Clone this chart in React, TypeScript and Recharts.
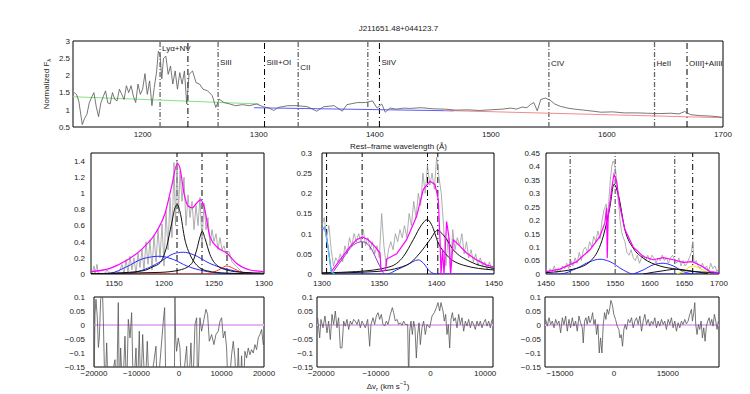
import React from 'react';
import { LineChart, Line, XAxis, YAxis, ReferenceLine, ReferenceArea } from 'recharts';

const FONT = '"Liberation Sans", Arial, sans-serif';

// ---- top overview: [rest wavelength (A), normalized flux] ----
const overviewFlux: number[][] = [
  [1141, 1.5], [1143, 1.45], [1145, 1.25], [1148, 0.57], [1150, 0.75], [1152, 0.87], [1154, 1.2],
  [1156, 1.36], [1158, 1.5], [1160, 1.1], [1162, 0.8], [1164, 1.2], [1166, 1.38], [1168, 1.55],
  [1170, 1.2], [1172, 1.17], [1174, 1.5], [1176, 1.3], [1178, 1.26], [1180, 1.6], [1182, 1.45],
  [1184, 1.3], [1186, 1.7], [1188, 1.5], [1190, 1.7], [1192, 1.4], [1194, 1.21], [1196, 1.75],
  [1198, 1.45], [1200, 1.6], [1202, 2.05], [1204, 1.45], [1206, 1.84], [1208, 1.12], [1210, 1.65],
  [1212, 2.1], [1213.5, 2.7], [1215, 2.6], [1216.5, 1.9], [1218, 2.5], [1220, 2.56], [1222, 2.03],
  [1224, 2.27], [1226, 1.75], [1228, 2.13], [1230, 1.6], [1232, 2.08], [1234, 1.75], [1236, 2.13],
  [1238, 1.17], [1240, 2.03], [1243, 2.13], [1246, 1.79], [1249, 1.75], [1252, 1.6], [1256, 1.55],
  [1260, 1.41], [1263, 1.07], [1266, 1.31], [1270, 1.21], [1275, 1.17], [1280, 1.12], [1286, 1.15],
  [1292, 1.12], [1298, 1.17], [1304, 1.09], [1309, 1.05], [1313, 0.98], [1317, 1.07], [1325, 1.12],
  [1333, 1.12], [1342, 1.09], [1350, 0.96], [1356, 1.09], [1365, 1.12], [1372, 0.96], [1376, 1.15],
  [1385, 1.21], [1392, 1.21], [1398, 1.26], [1402, 1.05], [1406, 1.17], [1409, 0.93], [1413, 1.05],
  [1419, 1.02], [1425, 1.05], [1430, 1.04], [1440, 1.06], [1450, 1.03], [1460, 1.02], [1470, 0.99],
  [1480, 1.0], [1490, 0.98], [1500, 1.0], [1510, 1.02], [1517, 1.05], [1522, 1.02], [1527, 1.08],
  [1531, 1.06], [1534, 1.15], [1537, 1.21], [1540, 0.97], [1543, 1.3], [1547, 1.34], [1551, 1.28],
  [1555, 1.17], [1560, 1.1], [1566, 1.05], [1572, 1.02], [1580, 0.99], [1588, 0.96], [1595, 0.93],
  [1605, 0.94], [1615, 0.91], [1625, 0.91], [1635, 0.9], [1645, 0.89], [1655, 0.9], [1662, 0.88],
  [1667, 0.95], [1672, 0.86], [1680, 0.83], [1688, 0.82], [1695, 0.8], [1700, 0.78],
];
const contLya: number[][] = [[1140, 1.38], [1300, 1.17]];
const contSiIV: number[][] = [[1296, 1.06], [1468, 0.97]];
const contCIV: number[][] = [[1460, 0.98], [1700, 0.77]];

const markerWaves = [1215, 1239, 1265, 1305, 1334, 1394, 1404, 1550, 1641, 1669];
const markerStrong = [false, true, false, true, false, false, true, false, false, true];
const markerNames = ['Lyα+NV', '', 'SiII', 'SiII+OI', 'CII', '', 'SiIV', 'CIV', 'HeII', 'OIII]+AlIII'];

// ---- Lya region ----
const lyaData: number[][] = [
  [1128, 0], [1130, 0.1], [1131, 0], [1133, 0.12], [1134, 0.02], [1137, 0], [1140, 0], [1143, 0.05],
  [1146, 0], [1150, 0.02], [1153, 0], [1156, 0.05], [1158, 0.12], [1160, 0], [1162, 0.18], [1164, 0.02],
  [1166, 0.22], [1168, 0.05], [1170, 0.2], [1172, 0], [1174, 0.26], [1176, 0.08], [1178, 0.3],
  [1180, 0.05], [1182, 0.4], [1184, 0.12], [1186, 0.42], [1188, 0.05], [1190, 0.48], [1192, 0.15],
  [1194, 0.55], [1196, 0.2], [1198, 0.62], [1200, 0.1], [1202, 0.78], [1204, 0.3], [1206, 0.95],
  [1208, 0.45], [1210, 1.38], [1211.5, 0.6], [1213, 1.4], [1214.5, 0.75], [1216, 1.28], [1218, 0.9],
  [1220, 1.2], [1222, 0.6], [1224, 0.98], [1226, 0.7], [1228, 0.9], [1230, 0.55], [1232, 0.85],
  [1234, 0.6], [1236, 0.95], [1238, 0.4], [1240, 0.88], [1242, 0.55], [1244, 0.7], [1246, 0.35],
  [1248, 0.55], [1250, 0.4], [1252, 0.5], [1254, 0.3], [1256, 0.45], [1258, 0.3], [1260, 0.35],
  [1262, 0.25], [1265, 0.28], [1268, 0.15], [1272, 0.1], [1276, 0.05], [1280, 0], [1285, 0.02],
  [1290, 0], [1295, 0.01], [1300, 0],
];
const lyaTotal: number[][] = [
  [1127, 0.03], [1146, 0.07], [1162.7, 0.17], [1179, 0.32], [1192.7, 0.53], [1201, 0.75],
  [1207.7, 1.09], [1213.3, 1.37], [1216, 1.31], [1220, 1.0], [1224.3, 0.84], [1228.3, 0.82],
  [1232.7, 0.88], [1236.7, 0.92], [1240, 0.84], [1246, 0.46], [1254.3, 0.32], [1262.7, 0.26],
  [1272.7, 0.13], [1286, 0.05], [1300, 0.03],
];
const lyaNarrow: number[][] = [
  [1127, 0], [1150, 0.01], [1179, 0.04], [1189, 0.09], [1196, 0.14], [1202.7, 0.34], [1207.7, 0.63],
  [1211, 0.82], [1213.3, 0.86], [1216, 0.77], [1221, 0.42], [1226, 0.24], [1232.7, 0.11],
  [1242.7, 0.04], [1262.7, 0.01], [1300, 0],
];
const nvNarrow: number[][] = [
  [1127, 0.005], [1196, 0.02], [1216, 0.05], [1227.7, 0.13], [1232.7, 0.3], [1236, 0.46],
  [1238.3, 0.53], [1241, 0.44], [1246, 0.24], [1252.7, 0.11], [1262.7, 0.05], [1279, 0.02], [1300, 0.01],
];
const lyaBroadA: number[][] = [
  [1127, 0], [1146, 0.01], [1162.7, 0.09], [1179, 0.19], [1196, 0.22], [1209.3, 0.18],
  [1222.7, 0.1], [1239.3, 0.04], [1256, 0.01], [1300, 0],
];
const lyaBroadB: number[][] = [
  [1127, 0], [1162.7, 0.01], [1179, 0.05], [1196, 0.15], [1209.3, 0.25], [1219.3, 0.27],
  [1229.3, 0.24], [1246, 0.13], [1262.7, 0.06], [1279.3, 0.02], [1300, 0.005],
];
const siiiComp: number[][] = [
  [1127, 0], [1240, 0], [1249.3, 0.02], [1256, 0.06], [1262.7, 0.1], [1269.3, 0.07], [1277.7, 0.02],
  [1286, 0], [1300, 0],
];
const lyaMarks = [1213, 1238, 1263];

// ---- SiIV region ----
const siivData: number[][] = [
  [1300, 0.12], [1302, 0.14], [1304, 0.09], [1306, 0.12], [1308, 0.06], [1310, 0.02], [1312, 0.04],
  [1314, 0.03], [1316, 0.05], [1318, 0.03], [1320, 0.07], [1322, 0.05], [1324, 0.09], [1326, 0.07],
  [1328, 0.1], [1330, 0.08], [1332, 0.1], [1334, 0.08], [1336, 0.11], [1338, 0.07], [1340, 0.09],
  [1342, 0.06], [1344, 0.08], [1346, 0.05], [1348, 0.07], [1350, 0.04], [1352, 0.15], [1354, 0.07],
  [1356, 0.02], [1358, 0.06], [1360, 0.08], [1362, 0.06], [1364, 0.1], [1366, 0.08], [1368, 0.11],
  [1370, 0.09], [1372, 0.12], [1374, 0.09], [1376, 0.15], [1378, 0.12], [1380, 0.18], [1382, 0.14],
  [1384, 0.2], [1386, 0.17], [1388, 0.25], [1390, 0.2], [1392, 0.27], [1394, 0.22], [1396, 0.25],
  [1398, 0.21], [1400, 0.29], [1402, 0.24], [1404, 0.2], [1406, 0.12], [1408, 0.02], [1410, 0.09],
  [1412, 0], [1414, 0.11], [1416, 0.06], [1418, 0.09], [1420, 0.07], [1422, 0.1], [1424, 0.05],
  [1426, 0.08], [1428, 0.04], [1430, 0.06], [1432, 0.03], [1434, 0.05], [1436, 0.02], [1438, 0.04],
  [1440, 0.02], [1442, 0.03], [1444, 0.01], [1446, 0.03], [1448, 0.01], [1450, 0.02],
];
const siivTotal: number[][] = [
  [1300, 0.11], [1302.3, 0.114], [1304.4, 0.085], [1306.5, 0.04], [1308.1, 0.006], [1315.7, 0.035],
  [1324.4, 0.068], [1330.2, 0.085], [1335.2, 0.092], [1340.4, 0.085], [1346.2, 0.068], [1350.6, 0.052],
  [1351.5, 0.008], [1355.5, 0.01], [1356.4, 0.037], [1365.1, 0.05], [1373.8, 0.085], [1382.5, 0.143],
  [1388.4, 0.21], [1394.2, 0.23], [1398.5, 0.222], [1401.4, 0.185], [1402.9, 0.085], [1403.8, 0],
  [1405.2, 0.06], [1406.4, 0], [1408.7, 0.13], [1411, 0.085], [1412.2, 0], [1414.5, 0.085],
  [1417.4, 0.077], [1426.1, 0.052], [1434.8, 0.035], [1443.5, 0.022], [1450, 0.018],
];
const oiComp: number[][] = [[1300, 0.112], [1302.3, 0.117], [1305.2, 0.068], [1308.1, 0.006], [1311, 0]];
const ciiComp: number[][] = [
  [1309.9, 0.006], [1318.6, 0.04], [1327.3, 0.072], [1335.2, 0.08], [1341.8, 0.068], [1349.1, 0.027],
  [1353.5, 0.003],
];
const siivA: number[][] = [
  [1300, 0.003], [1330.2, 0.006], [1359.3, 0.018], [1370.9, 0.043], [1379.6, 0.085], [1386.9, 0.122],
  [1391.8, 0.135], [1395.6, 0.122], [1401.4, 0.077], [1408.7, 0.047], [1423.2, 0.022], [1450, 0.01],
];
const siivB: number[][] = [
  [1300, 0.002], [1346.2, 0.006], [1373.8, 0.022], [1385.4, 0.052], [1394.2, 0.085], [1400.6, 0.108],
  [1405.8, 0.097], [1414.5, 0.06], [1429, 0.031], [1450, 0.014],
];
const siivBlue: number[][] = [
  [1300, 0], [1356.4, 0], [1365.1, 0.01], [1373.8, 0.022], [1384, 0.035], [1388.4, 0.027],
  [1394.2, 0.006], [1400, 0], [1450, 0],
];
const siivMarks = [1304, 1335, 1392, 1401];

// ---- CIV region ----
const civData: number[][] = [
  [1450, 0.02], [1453, 0], [1456, 0.02], [1459, 0.01], [1462, 0.03], [1465, 0], [1468, 0.02],
  [1471, 0.01], [1474, 0.03], [1477, 0.02], [1480, 0.04], [1483, 0.02], [1486, 0.05], [1489, 0.03],
  [1492, 0.06], [1495, 0.04], [1498, 0.08], [1501, 0.05], [1504, 0.09], [1507, 0.1], [1510, 0.08],
  [1513, 0.12], [1516, 0.1], [1519, 0.14], [1522, 0.12], [1525, 0.16], [1528, 0.13], [1531, 0.2],
  [1534, 0.24], [1537, 0.26], [1539, 0.2], [1541, 0.28], [1543, 0.35], [1545, 0.4], [1547, 0.42],
  [1549, 0.41], [1551, 0.38], [1553, 0.3], [1555, 0.26], [1557, 0.2], [1559, 0.16], [1561, 0.14],
  [1564, 0.12], [1567, 0.08], [1570, 0.07], [1573, 0.09], [1576, 0.06], [1579, 0.05], [1582, 0.07],
  [1585, 0.04], [1588, 0.06], [1591, 0.07], [1594, 0.05], [1597, 0.07], [1600, 0.05], [1603, 0.07],
  [1606, 0.06], [1609, 0.04], [1612, 0.06], [1615, 0.05], [1618, 0.07], [1621, 0.05], [1624, 0.06],
  [1627, 0.04], [1630, 0.06], [1633, 0.07], [1636, 0.05], [1639, 0.04], [1642, 0.06], [1645, 0.03],
  [1648, 0.05], [1651, 0.03], [1654, 0.04], [1657, 0.06], [1660, 0.08], [1662, 0.12], [1664, 0.04],
  [1667, 0.05], [1670, 0.03], [1673, 0.02], [1676, 0.04], [1679, 0.02], [1682, 0.03], [1685, 0.01],
  [1688, 0.04], [1691, 0.02], [1694, 0.03], [1697, 0.01], [1700, 0.02],
];
const civTotal: number[][] = [
  [1450, 0.009], [1470.2, 0.018], [1494.2, 0.046], [1513.5, 0.09], [1527.9, 0.14], [1535.1, 0.19],
  [1537.5, 0.246], [1538.5, 0.059], [1539.9, 0.215], [1544.8, 0.315], [1548.2, 0.37], [1552, 0.346],
  [1556.8, 0.25], [1564, 0.165], [1576.1, 0.1], [1590.5, 0.065], [1604.9, 0.053], [1619.3, 0.061],
  [1633.8, 0.053], [1648.2, 0.043], [1661.7, 0.046], [1674.7, 0.03], [1686.7, 0.009], [1700, 0.005],
];
const civNarrow: number[][] = [
  [1450, 0.005], [1494.2, 0.021], [1518.3, 0.059], [1532.7, 0.14], [1542.4, 0.25], [1548.2, 0.334],
  [1554.4, 0.296], [1564, 0.165], [1576.1, 0.096], [1590.5, 0.059], [1614.5, 0.03], [1638.6, 0.018],
  [1662.6, 0.009], [1700, 0.005],
];
const civBlueA: number[][] = [
  [1450, 0], [1470.2, 0], [1494.2, 0.021], [1513.5, 0.046], [1527.9, 0.055], [1542.4, 0.046],
  [1561.6, 0.015], [1576.1, 0], [1700, 0],
];
const civBlueB: number[][] = [
  [1576.1, 0], [1590.5, 0.015], [1604.9, 0.034], [1619.3, 0.04], [1633.8, 0.03], [1648.2, 0.009],
  [1662.6, 0],
];
const heiiComp: number[][] = [[1590.5, 0], [1619.3, 0.012], [1638.6, 0.018], [1657.8, 0.012], [1686.7, 0]];
const oiiiComp: number[][] = [[1638.6, 0], [1648.2, 0.009], [1661.7, 0.03], [1672.3, 0.021], [1686.7, 0]];
const civMarks = [1485, 1550, 1636, 1662];
const civMarkStrong = [false, false, false, true];

// ---- residuals: [velocity (km/s), residual] ----
const lyaResid: number[][] = [
  [-20000, -0.25], [-19770, 0.038], [-19530, 0.092], [-19220, 0.026], [-18980, -0.08], [-18750, -0.046],
  [-18430, 0.092], [-18200, 0.11], [-17960, 0.1], [-17800, 0.014], [-17410, -0.25], [-17020, -0.064],
  [-16630, -0.25], [-15060, -0.124], [-14670, -0.25], [-14280, 0.08], [-14040, -0.25], [-13730, -0.082],
  [-13260, -0.25], [-12710, -0.04], [-12320, -0.25], [-11930, 0.02], [-11530, -0.046], [-11140, 0.044],
  [-10750, -0.25], [-10120, -0.082], [-9810, -0.25], [-9340, -0.022], [-9020, -0.25], [-8550, -0.034],
  [-8000, -0.25], [-7460, -0.058], [-6990, -0.25], [-5420, -0.076], [-5100, -0.25], [-3690, 0.014],
  [-3380, 0.062], [-3070, -0.25], [-1110, -0.25], [-950, 0.1], [-790, -0.046], [-560, -0.094],
  [-170, -0.046], [230, -0.082], [620, -0.25], [1800, -0.076], [2190, -0.25], [2810, -0.064],
  [3210, -0.25], [3760, 0.002], [4150, 0.026], [4380, -0.25], [4930, 0.026], [5320, -0.022],
  [5870, 0.02], [6340, 0.056], [6730, 0.038], [7130, -0.058], [7680, -0.034], [8220, -0.07],
  [8690, -0.034], [9240, -0.022], [9640, 0.014], [10030, 0.026], [10420, -0.046], [10810, -0.022],
  [11200, -0.082], [11600, -0.25], [12380, -0.106], [12770, -0.058], [13160, -0.118], [13560, -0.25],
  [13950, -0.082], [14340, -0.25], [14730, -0.11], [15120, -0.25], [15510, -0.094], [15910, -0.118],
  [16300, -0.082], [16690, -0.106], [17080, -0.088], [17470, -0.1], [17870, -0.07], [18260, -0.088],
  [18650, -0.046], [19040, -0.034], [19440, -0.016], [19830, -0.07], [20000, -0.058],
];
const siivResid: number[][] = [
  [-20660, 0.026], [-20290, -0.046], [-20050, 0.02], [-19680, -0.01], [-19320, 0.032], [-18950, -0.028],
  [-18650, 0.014], [-18340, -0.052], [-18040, 0.038], [-17730, 0.002], [-17430, 0.05], [-17120, -0.01],
  [-16820, 0.026], [-16510, -0.082], [-16210, -0.082], [-15900, 0.014], [-15600, -0.004], [-15290, 0.02],
  [-14990, -0.016], [-14680, 0.014], [-14380, 0.002], [-14070, 0.02], [-13770, 0.014], [-13460, 0.002],
  [-13160, 0.02], [-12850, -0.01], [-12550, 0.014], [-12240, 0.002], [-11940, -0.01], [-11510, 0.02],
  [-11140, -0.076], [-10900, 0.002], [-10530, 0.026], [-10230, 0.002], [-9920, 0.032], [-9620, 0.044],
  [-9310, 0.02], [-9010, 0.038], [-8700, 0.002], [-8400, -0.004], [-8090, 0.014], [-7790, 0.002],
  [-7360, 0.038], [-6990, 0.062], [-6750, 0.044], [-6450, 0.014], [-6140, 0.02], [-5840, 0.002],
  [-5530, 0.008], [-5230, -0.001], [-4920, 0.014], [-4620, 0.002], [-4190, 0.002], [-4010, -0.2],
  [-3820, -0.022], [-3580, 0.014], [-3330, -0.034], [-3090, 0.014], [-2850, -0.01], [-2600, -0.118],
  [-2360, -0.034], [-2110, 0.008], [-1870, -0.07], [-1570, -0.01], [-1260, 0.014], [-960, -0.034],
  [-650, 0.002], [-160, -0.01], [270, 0.032], [690, 0.044], [1060, 0.062], [1360, 0.08], [1670, 0.05],
  [1910, 0.08], [2280, 0.05], [2520, 0.014], [2770, 0.038], [3010, -0.034], [3250, 0.002],
  [3500, -0.082], [3740, 0.02], [3990, 0.044], [4230, 0.014], [4540, 0.026], [4840, -0.01],
  [5150, 0.038], [5450, 0.002], [5760, 0.026], [6060, -0.022], [6370, 0.014], [6670, -0.004],
  [6980, 0.02], [7280, -0.01], [7590, 0.014], [7890, 0.002], [8200, -0.016], [8500, 0.014],
  [8810, -0.004], [9110, 0.014], [9420, -0.01], [9720, 0.008], [10030, 0.02], [10330, -0.004],
  [10640, 0.014], [10940, -0.01], [11250, 0.02],
];
const civResid: number[][] = [
  [-19000, 0.02], [-18540, -0.004], [-18070, 0.026], [-17610, 0.002], [-17150, 0.014], [-16690, -0.01],
  [-16220, 0.02], [-15760, 0.002], [-15300, 0.014], [-14830, -0.028], [-14370, 0.026], [-13910, 0.002],
  [-13440, 0.032], [-12980, -0.022], [-12520, 0.02], [-12060, -0.01], [-11590, 0.026], [-11130, -0.004],
  [-10670, 0.014], [-10200, -0.022], [-9740, 0.032], [-9280, 0.008], [-8810, -0.01], [-8540, -0.064],
  [-8170, 0.014], [-7800, 0.026], [-7430, 0.002], [-7050, 0.032], [-6680, 0.008], [-6310, 0.02],
  [-5940, 0.044], [-5570, 0.002], [-5200, 0.02], [-4830, -0.034], [-4460, 0.002], [-4090, -0.1],
  [-3720, -0.046], [-3350, -0.1], [-2980, 0.002], [-2610, 0.044], [-2240, 0.02], [-1870, 0.056],
  [-1500, 0.038], [-1130, 0.062], [-850, 0.088], [-480, 0.074], [-20, 0.038], [450, 0.02],
  [910, -0.004], [1370, -0.016], [1650, -0.046], [2020, -0.034], [2390, -0.076], [2760, -0.016],
  [3130, 0.002], [3500, -0.016], [3970, 0.02], [4430, 0.008], [4890, 0.026], [5350, -0.01],
  [5820, 0.014], [6280, 0.026], [6740, 0.002], [7210, 0.032], [7670, -0.022], [8130, 0.014],
  [8600, 0.038], [9060, 0.002], [9520, 0.02], [9980, -0.004], [10450, 0.014], [10910, 0.002],
  [11370, 0.026], [11840, -0.01], [12300, 0.014], [12760, -0.004], [13230, 0.02], [13690, 0.002],
  [14150, 0.014], [14610, -0.016], [15080, 0.02], [15540, 0.002], [16000, 0.026], [16470, -0.01],
  [16930, 0.014], [17390, -0.022], [17860, 0.008], [18320, -0.01], [18780, 0.014], [19240, 0.002],
  [19710, 0.02], [20170, 0.004], [20630, 0.014], [21100, 0.038], [21560, 0.056], [21840, 0.014],
  [22210, 0.044], [22490, 0.08], [22760, 0.002], [23130, -0.034], [23500, 0.002], [23870, -0.016],
  [24250, 0.014], [24620, -0.046], [24990, -0.01], [25360, -0.058], [25730, -0.004], [26100, 0.014],
  [26470, 0.026], [26840, 0.002], [27210, 0.02], [27580, -0.004], [27950, 0.038], [28320, 0.014],
  [28690, -0.016], [29060, 0.014],
];

const pts = (a: number[][]) => a.map(([x, y]) => ({ x, y }));
const fmt = (v: number) => String(v).replace('-', '\u2212');
const tickStyle = { fontSize: 8, fill: '#222', fontFamily: FONT };

type PanelProps = {
  box: number[];
  xDomain: number[];
  xTicks: number[];
  yDomain: number[];
  yTicks: number[];
  xGap: number;
  yGap: number;
  children?: React.ReactNode;
};

function Panel({ box, xDomain, xTicks, yDomain, yTicks, xGap, yGap, children }: PanelProps) {
  const [x0, y0, x1, y1] = box;
  const yw = 40;
  const xh = 20;
  const padT = 6;
  const padR = 16;
  return (
    <div style={{ position: 'absolute', left: x0 - yw, top: y0 - padT }}>
      <LineChart
        width={x1 - x0 + yw + padR}
        height={y1 - y0 + padT + xh}
        margin={{ top: padT, right: padR, bottom: 0, left: 0 }}
      >
        <XAxis
          type="number" dataKey="x" domain={xDomain} ticks={xTicks} allowDataOverflow interval={0}
          height={xh} axisLine={false} tickLine={false} tickSize={0} tickMargin={xGap}
          tick={tickStyle} tickFormatter={fmt}
        />
        <YAxis
          type="number" dataKey="y" domain={yDomain} ticks={yTicks} allowDataOverflow interval={0}
          width={yw} axisLine={false} tickLine={false} tickSize={0} tickMargin={yGap}
          tick={tickStyle} tickFormatter={fmt}
        />
        {children}
        <ReferenceArea
          x1={xDomain[0]} x2={xDomain[1]} y1={yDomain[0]} y2={yDomain[1]}
          fill="none" fillOpacity={0} stroke="#000" strokeWidth={1}
        />
      </LineChart>
    </div>
  );
}

const curve = (key: string, data: number[][], color: string, width = 1, smooth = true) => (
  <Line
    key={key} data={pts(data)} dataKey="y" type={smooth ? 'monotone' : 'linear'}
    stroke={color} strokeWidth={width} dot={false} isAnimationActive={false}
  />
);

const mark = (w: number, strong: boolean, i: number, label?: any) => (
  <ReferenceLine
    key={'m' + i} x={w} stroke={strong ? '#000' : '#666'} strokeWidth={strong ? 1 : 1.3}
    strokeDasharray={strong ? '6 3 1 3' : '5 2 1 2'} label={label}
  />
);

const tagDy: Record<string, number> = {
  'Lyα+NV': 10, SiII: 24, 'SiII+OI': 24, CII: 29, SiIV: 24, CIV: 25, HeII: 25, 'OIII]+AlIII': 25,
};

export default function App() {
  const resTicks = [-0.15, -0.1, -0.05, 0, 0.05, 0.1];
  const resDomain = [-0.15, 0.1];
  const zero = <ReferenceLine key="zero" y={0} stroke="#e6b6f4" strokeWidth={2} />;
  return (
    <div style={{ position: 'absolute', left: 0, top: 0, width: 750, height: 394, background: '#fff', fontFamily: FONT }}>
      <div style={{ position: 'absolute', left: 0, width: 797, top: 24, textAlign: 'center', fontSize: 8, color: '#222' }}>
        J211651.48+044123.7
      </div>
      <div
        style={{
          position: 'absolute', left: 47, top: 84, fontSize: 8, color: '#222', whiteSpace: 'nowrap',
          transform: 'translate(-50%, -50%) rotate(-90deg)',
        }}
      >
        Normalized F<sub style={{ fontSize: 6 }}>λ</sub>
      </div>

      <Panel box={[73, 41, 723, 127]} xDomain={[1140, 1700]} xTicks={[1200, 1300, 1400, 1500, 1600, 1700]}
        yDomain={[0.5, 3]} yTicks={[0.5, 1, 1.5, 2, 2.5, 3]} xGap={4} yGap={3}>
        {markerWaves.map((w, i) =>
          mark(w, markerStrong[i], i, markerNames[i]
            ? (p: any) => (
              <text x={p.viewBox.x + 2} y={p.viewBox.y + tagDy[markerNames[i]]} fontSize={8} fill="#222" fontFamily={FONT}>
                {markerNames[i]}
              </text>
            )
            : undefined)
        )}
        {curve('cg', contLya, '#84e284', 1, false)}
        {curve('cb', contSiIV, '#5a5aff', 1, false)}
        {curve('cr', contCIV, '#f48a8a', 1, false)}
        {curve('spec', overviewFlux, '#555', 0.8, false)}
      </Panel>

      <div style={{ position: 'absolute', left: 0, width: 797, top: 142, textAlign: 'center', fontSize: 8, color: '#222' }}>
        Rest–frame wavelength (Å)
      </div>

      <Panel box={[91, 153, 264, 274]} xDomain={[1127, 1300]} xTicks={[1150, 1200, 1250, 1300]}
        yDomain={[0, 1.5]} yTicks={[0, 0.2, 0.4, 0.6, 0.8, 1, 1.2, 1.4]} xGap={6} yGap={6}>
        {lyaMarks.map((w, i) => mark(w, true, i))}
        {curve('d', lyaData, '#9a9a9a', 0.8, false)}
        {curve('b1', lyaBroadA, '#2a2aff')}
        {curve('b2', lyaBroadB, '#2a2aff')}
        {curve('r', siiiComp, '#ff3030')}
        {curve('n1', lyaNarrow, '#111')}
        {curve('n2', nvNarrow, '#111')}
        {curve('t', lyaTotal, '#ff00ff', 1.2)}
      </Panel>

      <Panel box={[322, 153, 494, 274]} xDomain={[1300, 1450]} xTicks={[1300, 1350, 1400, 1450]}
        yDomain={[0, 0.3]} yTicks={[0, 0.05, 0.1, 0.15, 0.2, 0.25, 0.3]} xGap={6} yGap={10}>
        {siivMarks.map((w, i) => mark(w, true, i))}
        {curve('d', siivData, '#9a9a9a', 0.8, false)}
        {curve('bl', siivBlue, '#2a2aff')}
        {curve('a', siivA, '#111')}
        {curve('b', siivB, '#111')}
        {curve('t', siivTotal, '#ff00ff', 1.2, false)}
        {curve('o', oiComp, '#30d8e0', 1.2, false)}
        {curve('c', ciiComp, '#9a30c8')}
      </Panel>

      <Panel box={[546, 153, 719, 274]} xDomain={[1450, 1700]} xTicks={[1450, 1500, 1550, 1600, 1650, 1700]}
        yDomain={[0, 0.45]} yTicks={[0, 0.05, 0.1, 0.15, 0.2, 0.25, 0.3, 0.35, 0.4, 0.45]} xGap={6} yGap={6}>
        {civMarks.map((w, i) => mark(w, civMarkStrong[i], i))}
        {curve('d', civData, '#9a9a9a', 0.8, false)}
        {curve('ba', civBlueA, '#2a2aff')}
        {curve('bb', civBlueB, '#2a2aff')}
        {curve('he', heiiComp, '#111')}
        {curve('y', oiiiComp, '#e8e800')}
        {curve('n', civNarrow, '#111')}
        {curve('t', civTotal, '#ff00ff', 1.2, false)}
      </Panel>

      <Panel box={[94, 297, 264, 367]} xDomain={[-20000, 20000]} xTicks={[-20000, -10000, 0, 10000, 20000]}
        yDomain={resDomain} yTicks={resTicks} xGap={3} yGap={9}>
        {zero}
        {curve('r', lyaResid, '#555', 0.8, false)}
      </Panel>

      <Panel box={[317, 297, 493, 367]} xDomain={[-20780, 11430]} xTicks={[-20000, -10000, 0, 10000]}
        yDomain={resDomain} yTicks={resTicks} xGap={3} yGap={4}>
        {zero}
        {curve('r', siivResid, '#555', 0.8, false)}
      </Panel>

      <Panel box={[545, 297, 719, 367]} xDomain={[-19185, 29233]} xTicks={[-15000, 0, 15000]}
        yDomain={resDomain} yTicks={resTicks} xGap={3} yGap={4}>
        {zero}
        {curve('r', civResid, '#555', 0.8, false)}
      </Panel>

      <div style={{ position: 'absolute', left: 0, width: 776, top: 380, textAlign: 'center', fontSize: 8, color: '#222' }}>
        Δv<sub style={{ fontSize: 6 }}>r</sub> (km s<sup style={{ fontSize: 6 }}>−1</sup>)
      </div>
    </div>
  );
}
